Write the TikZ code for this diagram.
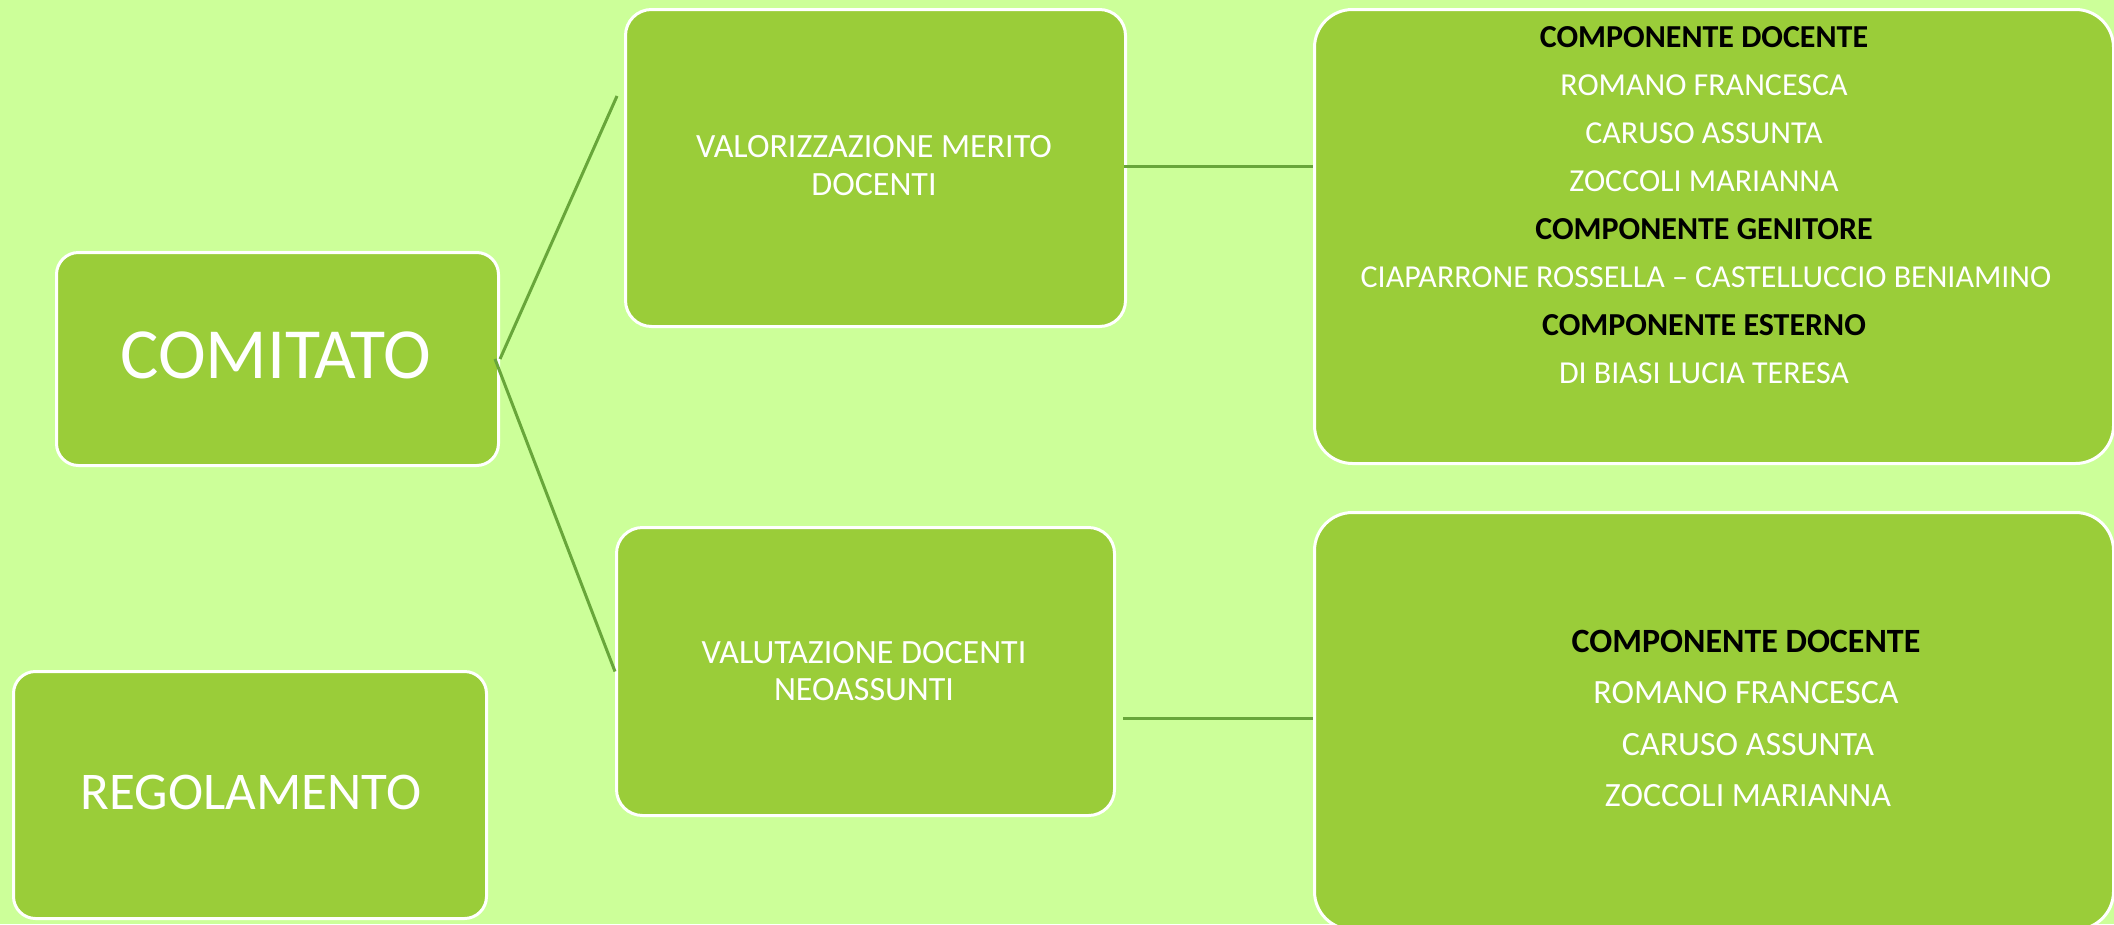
\documentclass[tikz,border=0pt]{standalone}
\usepackage{fontspec}
\setmainfont{Carlito}
\definecolor{bgcol}{RGB}{204,255,153}
\definecolor{boxcol}{RGB}{154,205,57}
\definecolor{linecol}{RGB}{104,166,58}
\begin{document}
\begin{tikzpicture}[x=1pt,y=-1pt,
  box/.style={draw=white, line width=3pt, fill=boxcol, anchor=north west, inner sep=0pt},
  txt/.style={text=white, inner sep=0pt, anchor=base},
  hd/.style={text=black, inner sep=0pt, anchor=base, font=\fontsize{32}{38}\selectfont\bfseries},
  conn/.style={draw=linecol, line width=3pt}]
\fill[bgcol] (0,0) rectangle (2114,924);
\useasboundingbox (0,0) rectangle (2114,924);

% boxes
\node[box, rounded corners=22pt, minimum width=442pt, minimum height=213pt] (comitato) at (55,251) {};
\node[box, rounded corners=22pt, minimum width=473pt, minimum height=247pt] (regol) at (12,670) {};
\node[box, rounded corners=26pt, minimum width=500pt, minimum height=317pt] (valor) at (624,8) {};
\node[box, rounded corners=26pt, minimum width=498pt, minimum height=288pt] (valut) at (615,526) {};
\node[box, rounded corners=38pt, minimum width=799pt, minimum height=454pt] (tr) at (1313,8) {};
\node[box, rounded corners=38pt, minimum width=799pt, minimum height=417pt] (br) at (1313,511) {};

% texts
\node[txt, font=\fontsize{72}{86}\selectfont] (tcom) at (276,378) {COMITATO};
\node[txt, font=\fontsize{53}{64}\selectfont] (treg) at (251,809) {REGOLAMENTO};
\node[txt, font=\fontsize{34}{41}\selectfont] (tva1) at (874,157) {VALORIZZAZIONE MERITO};
\node[txt, font=\fontsize{34}{41}\selectfont] (tva2) at (874,195) {DOCENTI};
\node[txt, font=\fontsize{34}{41}\selectfont] (tvu1) at (864,663) {VALUTAZIONE DOCENTI};
\node[txt, font=\fontsize{34}{41}\selectfont] (tvu2) at (864,700) {NEOASSUNTI};

\node[hd] (tr0) at (1704,47) {COMPONENTE DOCENTE};
\node[txt, font=\fontsize{32}{38}\selectfont] (tr1) at (1704,95) {ROMANO FRANCESCA};
\node[txt, font=\fontsize{32}{38}\selectfont] (tr2) at (1704,143) {CARUSO ASSUNTA};
\node[txt, font=\fontsize{32}{38}\selectfont] (tr3) at (1704,191) {ZOCCOLI MARIANNA};
\node[hd] (tr4) at (1704,239) {COMPONENTE GENITORE};
\node[txt, font=\fontsize{32}{38}\selectfont] (tr5) at (1706,287) {CIAPARRONE ROSSELLA – CASTELLUCCIO BENIAMINO};
\node[hd] (tr6) at (1704,335) {COMPONENTE ESTERNO};
\node[txt, font=\fontsize{32}{38}\selectfont] (tr7) at (1704,383) {DI BIASI LUCIA TERESA};

\node[hd, font=\fontsize{34}{41}\selectfont\bfseries] (br0) at (1746,652) {COMPONENTE DOCENTE};
\node[txt, font=\fontsize{34}{41}\selectfont] (br1) at (1746,703) {ROMANO FRANCESCA};
\node[txt, font=\fontsize{34}{41}\selectfont] (br2) at (1748,755) {CARUSO ASSUNTA};
\node[txt, font=\fontsize{34}{41}\selectfont] (br3) at (1748,806) {ZOCCOLI MARIANNA};

% connectors
\coordinate (c1end) at (617,96);
\coordinate (c3a) at (1124,166);
\coordinate (c4a) at (1123,718);
\draw[conn] (comitato.east) -- (c1end);
\draw[conn] ([xshift=-5pt]comitato.east) -- (valut.west);
\draw[conn] (c3a) -- (c3a -| tr.west);
\draw[conn] (c4a) -- (c4a -| br.west);
\end{tikzpicture}
\end{document}
